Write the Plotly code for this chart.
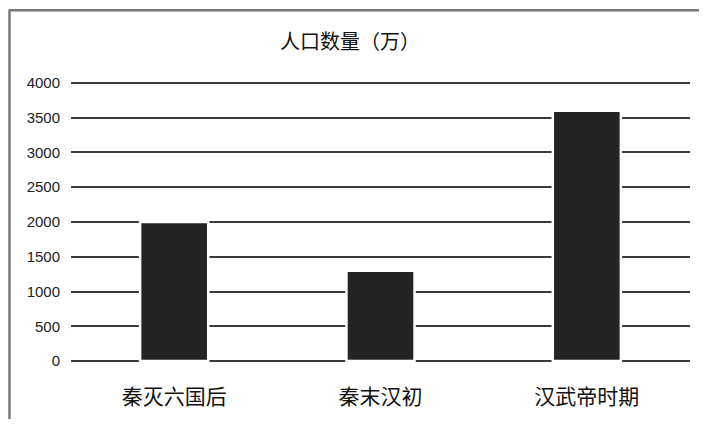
import plotly.graph_objects as go

categories = ["秦灭六国后", "秦末汉初", "汉武帝时期"]
population = [2000, 1300, 3600]
y_ticks = [0, 500, 1000, 1500, 2000, 2500, 3000, 3500, 4000]
title_text = "人口数量（万）"

# page body has an 8px margin, so the figure is drawn 8px in from the window edge
OFF = 8
W, H = 707 - 2 * OFF, 427 - 2 * OFF
PAD = 3  # extra px above/below the outer gridlines so they are drawn
L, T = 71 - OFF, 83 - OFF - PAD
R = W - (690 - OFF)
B = H - (364 - OFF) - PAD
pw, ph = W - L - R, H - T - B
yext = PAD * 4000 / (ph - 2 * PAD)

def px_x(p):
    return (p - OFF - L) / pw

def px_y(q):
    return (H - B - (q - OFF)) / ph

fig = go.Figure()
fig.add_trace(go.Bar(
    x=categories, y=population,
    marker=dict(color="#242424", line=dict(color="white", width=2.5)),
    width=0.33,
))

fig.update_layout(
    width=W, height=H,
    margin=dict(l=L, r=R, t=T, b=B),
    paper_bgcolor="white", plot_bgcolor="white",
    showlegend=False,
    title=dict(text=title_text, x=(350 - OFF) / W, xanchor="center",
               y=1 - (42 - OFF) / H, yanchor="middle",
               font=dict(family="Noto Sans CJK SC", size=20, color="#111")),
    xaxis=dict(showgrid=False, showline=False, zeroline=False, ticks="",
               tickfont=dict(family="Noto Sans CJK SC", size=21, color="#111"),
               ticklabelstandoff=18),
    yaxis=dict(range=[-yext, 4000 + yext], tickvals=y_ticks, showgrid=True,
               gridcolor="#3a3a3a", gridwidth=1.6,
               zeroline=True, zerolinecolor="#3a3a3a", zerolinewidth=1.6,
               showline=False, ticks="",
               tickfont=dict(family="Liberation Sans, Arial", size=15, color="#222"),
               ticklabelstandoff=10),
    shapes=[
        dict(type="line", xref="paper", yref="paper", x0=px_x(9), x1=px_x(699), y0=px_y(9.5), y1=px_y(9.5),
             line=dict(color="#777", width=2.5)),
        dict(type="line", xref="paper", yref="paper", x0=px_x(9.5), x1=px_x(9.5), y0=px_y(9), y1=px_y(427),
             line=dict(color="#777", width=2.5)),
    ],
)

fig.write_html("out.html")
